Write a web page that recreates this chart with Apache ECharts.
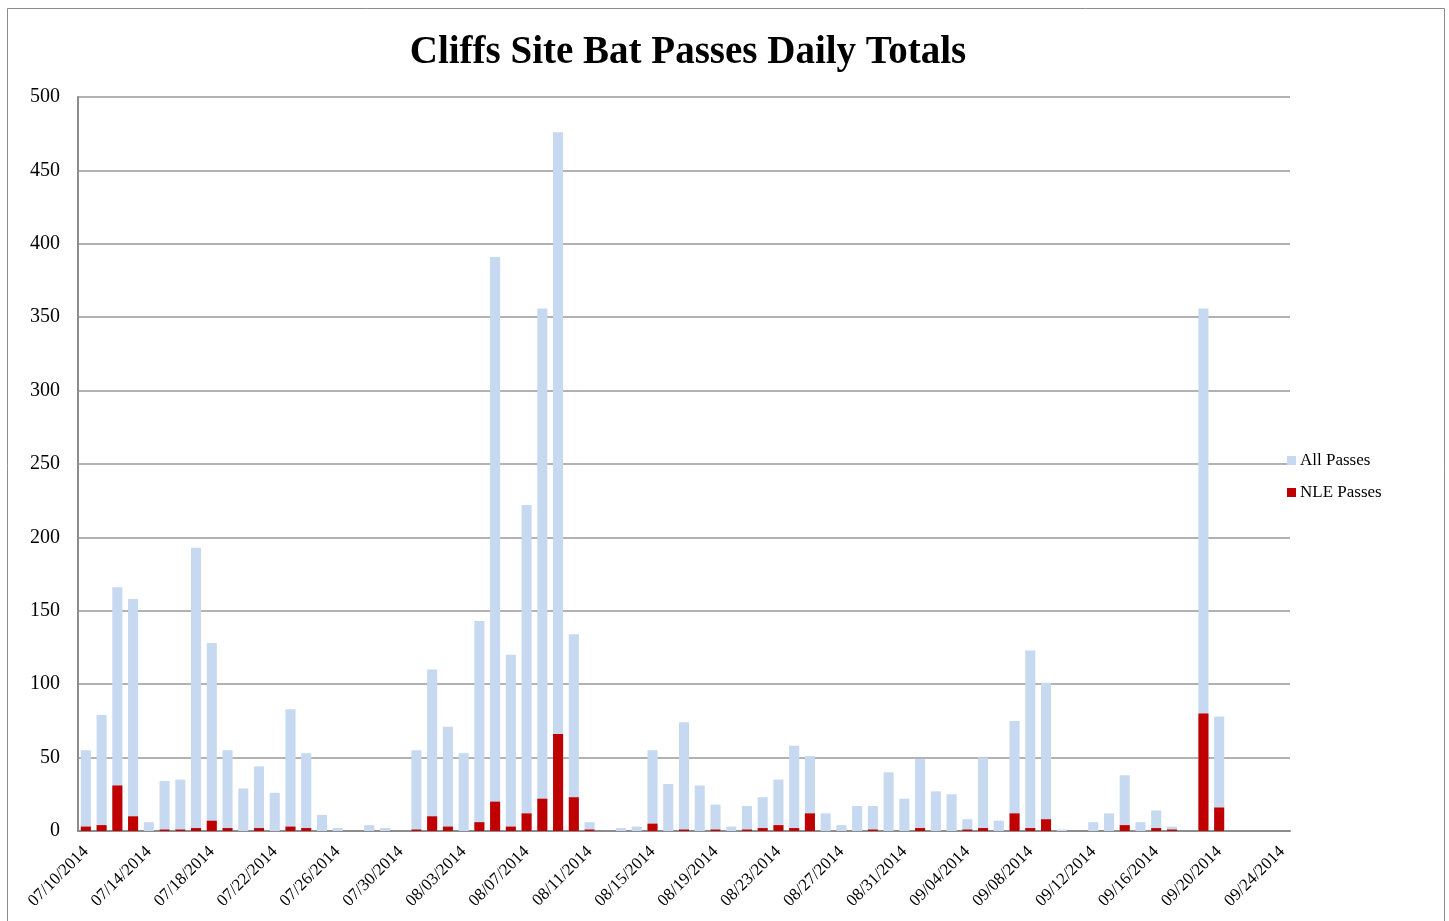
<!DOCTYPE html>
<html>
<head>
<meta charset="utf-8">
<script src="https://cdn.jsdelivr.net/npm/echarts@6/dist/echarts.min.js"></script>
<style>
  html, body { margin: 0; padding: 0; background: #fff; }
  #chart { width: 1449px; height: 921px; }
</style>
</head>
<body>
<div id="chart"></div>
<script>
// Daily dates, 07/10/2014 through 09/24/2014
const dates = [
  '07/10/2014','07/11/2014','07/12/2014','07/13/2014','07/14/2014','07/15/2014','07/16/2014','07/17/2014',
  '07/18/2014','07/19/2014','07/20/2014','07/21/2014','07/22/2014','07/23/2014','07/24/2014','07/25/2014',
  '07/26/2014','07/27/2014','07/28/2014','07/29/2014','07/30/2014','07/31/2014',
  '08/01/2014','08/02/2014','08/03/2014','08/04/2014','08/05/2014','08/06/2014','08/07/2014','08/08/2014',
  '08/09/2014','08/10/2014','08/11/2014','08/12/2014','08/13/2014','08/14/2014','08/15/2014','08/16/2014',
  '08/17/2014','08/18/2014','08/19/2014','08/20/2014','08/21/2014','08/22/2014','08/23/2014','08/24/2014',
  '08/25/2014','08/26/2014','08/27/2014','08/28/2014','08/29/2014','08/30/2014','08/31/2014',
  '09/01/2014','09/02/2014','09/03/2014','09/04/2014','09/05/2014','09/06/2014','09/07/2014','09/08/2014',
  '09/09/2014','09/10/2014','09/11/2014','09/12/2014','09/13/2014','09/14/2014','09/15/2014','09/16/2014',
  '09/17/2014','09/18/2014','09/19/2014','09/20/2014','09/21/2014','09/22/2014','09/23/2014','09/24/2014'
];

// Total bat passes per night
const allPasses = [
  55, 79, 166, 158, 6, 34, 35, 193,
  128, 55, 29, 44, 26, 83, 53, 11,
  2, 0, 4, 2, 0, 55,
  110, 71, 53, 143, 391, 120, 222, 356,
  476, 134, 6, 0, 2, 3, 55, 32,
  74, 31, 18, 3, 17, 23, 35, 58,
  51, 12, 4, 17, 17, 40, 22,
  49, 27, 25, 8, 50, 7, 75, 123,
  101, 1, 0, 6, 12, 38, 6, 14,
  3, 0, 356, 78, 0, 0, 0, 0
];

// NLE passes per night
const nlePasses = [
  3, 4, 31, 10, 0, 1, 1, 2,
  7, 2, 0, 2, 0, 3, 2, 0,
  0, 0, 0, 0, 0, 1,
  10, 3, 0, 6, 20, 3, 12, 22,
  66, 23, 1, 0, 0, 0, 5, 0,
  1, 0, 1, 0, 1, 2, 4, 2,
  12, 0, 0, 0, 1, 0, 0,
  2, 0, 0, 1, 2, 0, 12, 2,
  8, 0, 0, 0, 0, 4, 0, 2,
  1, 0, 80, 16, 0, 0, 0, 0
];

const yTicks = { min: 0, max: 500, interval: 50 };

const serif = '"Liberation Serif", "DejaVu Serif", serif';
const chart = echarts.init(document.getElementById('chart'), null, { renderer: 'canvas' });

chart.setOption({
  backgroundColor: '#ffffff',
  animation: false,
  title: {
    text: 'Cliffs Site Bat Passes Daily Totals',
    left: 683,
    textAlign: 'center',
    top: 28,
    textStyle: { fontFamily: serif, fontSize: 39, fontWeight: 'bold', color: '#000' }
  },
  legend: {
    orient: 'vertical',
    left: 1282,
    top: 447,
    itemWidth: 9,
    itemHeight: 9,
    itemGap: 15,
    icon: 'rect',
    textStyle: { fontFamily: serif, fontSize: 17, color: '#000', padding: [0, 0, 0, -1] },
    data: ['All Passes', 'NLE Passes']
  },
  graphic: [{
    type: 'rect',
    shape: { x: 7.5, y: 8.5, width: 1437, height: 940 },
    style: { fill: null, stroke: '#8c8c8c', lineWidth: 1 },
    silent: true
  }],
  grid: { left: 78, right: 159, top: 97, bottom: 90, containLabel: false },
  xAxis: {
    type: 'category',
    data: dates,
    axisLine: { show: true, lineStyle: { color: '#8c8c8c', width: 2 } },
    axisTick: { show: false },
    axisLabel: {
      interval: 3,
      rotate: 45,
      margin: 18,
      fontFamily: serif,
      fontSize: 17,
      color: '#000'
    }
  },
  yAxis: {
    type: 'value',
    min: yTicks.min,
    max: yTicks.max,
    interval: yTicks.interval,
    axisLine: { show: true, lineStyle: { color: '#8c8c8c', width: 2 } },
    axisTick: { show: false },
    axisLabel: { fontFamily: serif, fontSize: 20, color: '#000', margin: 18 },
    splitLine: { lineStyle: { color: '#999999', width: 1.5 } }
  },
  series: [
    {
      name: 'All Passes',
      type: 'bar',
      data: allPasses,
      barWidth: '64%',
      barGap: '-100%',
      itemStyle: { color: '#c6d9f1' }
    },
    {
      name: 'NLE Passes',
      type: 'bar',
      data: nlePasses,
      barWidth: '64%',
      barGap: '-100%',
      itemStyle: { color: '#c00000' }
    }
  ]
});
</script>
</body>
</html>
